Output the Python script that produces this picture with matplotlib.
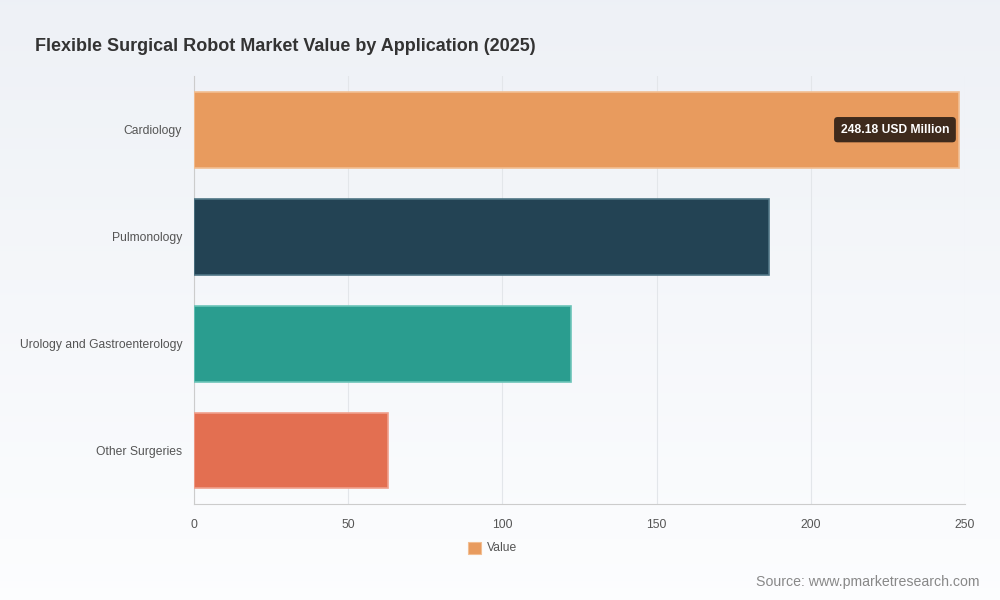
import matplotlib
matplotlib.use("Agg")
import matplotlib.pyplot as plt
import numpy as np
from matplotlib.patches import Rectangle

categories = ["Cardiology", "Pulmonology", "Urology and Gastroenterology", "Other Surgeries"]
values = [248.18, 186.4, 122.2, 62.9]
colors = ["#E89B5E", "#234354", "#2A9D8F", "#E36F51"]
edge_colors = ["#F2BE92", "#4F7585", "#6CC4B8", "#F0A08C"]
xticks = [0, 50, 100, 150, 200, 250]

plt.rcParams['font.family'] = ['Liberation Sans', 'DejaVu Sans']

fig = plt.figure(figsize=(10, 6), dpi=100)

# background gradient
bg = fig.add_axes([0, 0, 1, 1], zorder=-10)
grad = np.linspace(0, 1, 256).reshape(-1, 1)
c_top = np.array([0.933, 0.945, 0.965])
c_bot = np.array([0.990, 0.993, 0.998])
img = c_top[None, None, :] * (1 - grad[:, :, None]) + c_bot[None, None, :] * grad[:, :, None]
bg.imshow(img, aspect='auto', extent=[0, 1, 0, 1])
bg.axis('off')

ax = fig.add_axes([0.194, 0.16, 0.771, 0.713])
ax.set_facecolor('none')
y = np.arange(len(categories))
ax.barh(y, values, height=0.71, color=colors, edgecolor=edge_colors, linewidth=1.2, zorder=3)
ax.set_ylim(len(categories) - 0.5, -0.5)
ax.set_xlim(0, 250)
ax.set_xticks(xticks)
ax.set_xticklabels([str(t) for t in xticks])
ax.set_yticks(y)
ax.set_yticklabels(categories)
ax.tick_params(axis='both', length=0, labelsize=8.7, colors='#555555')
ax.tick_params(axis='x', pad=11)
ax.tick_params(axis='y', pad=8.5)
ax.grid(axis='x', color='#E3E6EA', linewidth=0.8, zorder=0)
for s in ['top', 'right']:
    ax.spines[s].set_visible(False)
ax.spines['left'].set_color('#CCCCCC')
ax.spines['bottom'].set_color('#CCCCCC')

# value label on largest bar
ax.text(values[0] - 3.3, 0, f"{values[0]:.2f} USD Million", ha='right', va='center',
        fontsize=8.7, fontweight='bold', color='white', zorder=5,
        bbox=dict(boxstyle='round,pad=0.55,rounding_size=0.3', fc='#3E2A1C', ec='none'))

fig.text(0.035, 0.923, "Flexible Surgical Robot Market Value by Application (2025)",
         fontsize=13, fontweight='bold', color='#333333', ha='left', va='center')

# legend
fig.patches.append(Rectangle((0.468, 0.076), 0.013, 0.021, transform=fig.transFigure,
                             fc=colors[0], ec=edge_colors[0], lw=0.8))
fig.text(0.487, 0.086, "Value", fontsize=8.7, color='#555555', ha='left', va='center')

fig.text(0.98, 0.03, "Source: www.pmarketresearch.com", fontsize=10.2, color='#888888',
         ha='right', va='center')

fig.savefig("out.png", dpi=100)
